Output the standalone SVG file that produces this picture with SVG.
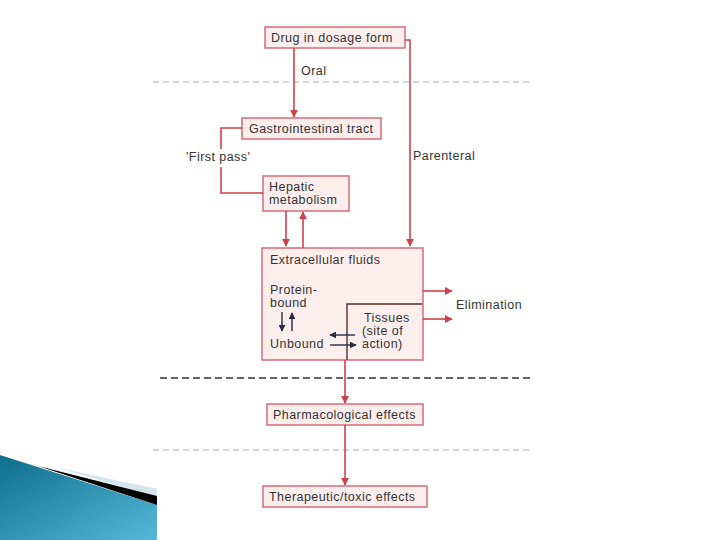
<svg xmlns="http://www.w3.org/2000/svg" width="720" height="540" viewBox="0 0 720 540">
<defs>
<style>
.box{fill:#fdeeee;stroke:#d87480;stroke-width:1.6}
.t{font-family:"Liberation Sans",Arial,sans-serif;font-size:12.5px;letter-spacing:0.45px;fill:#333}
.c{fill:none;stroke:#d0404c;stroke-width:1.6}
.k{fill:none;stroke:#222a44;stroke-width:1.4}
.dl{stroke:#aaa;stroke-width:1;stroke-dasharray:6,4}
.dd{stroke:#333;stroke-width:1.6;stroke-dasharray:7,4}
</style>
<marker id="ar" viewBox="0 0 10 10" refX="9" refY="5" markerWidth="5" markerHeight="5" orient="auto"><path d="M0,0 L10,5 L0,10 z" fill="#d0404c"/></marker>
<marker id="ak" viewBox="0 0 10 10" refX="9" refY="5" markerWidth="5" markerHeight="5" orient="auto"><path d="M0,0 L10,5 L0,10 z" fill="#222a44"/></marker>
<linearGradient id="tg" x1="0" y1="0" x2="1" y2="1"><stop offset="0" stop-color="#0d6f8c"/><stop offset="1" stop-color="#55b8d8"/></linearGradient>
</defs>
<rect width="720" height="540" fill="#fff"/>
<g id="decor">
<path d="M0,455 L157,505 L157,540 L0,540 Z" fill="url(#tg)"/>
<path d="M55,467 L157,489 L157,497 Z" fill="#d6e4ec"/>
<path d="M38,466 L157,496 L157,505 Z" fill="#000"/>
</g>
<g id="lines">
<line class="dl" x1="153" y1="82" x2="530" y2="82"/>
<line class="dd" x1="160" y1="378" x2="530" y2="378"/>
<line class="dl" x1="153" y1="450" x2="530" y2="450"/>
</g>
<g id="drug"><rect class="box" x="265" y="27" width="140" height="21"/><text class="t" x="271" y="42">Drug in dosage form</text></g>
<g id="gi"><rect class="box" x="242" y="118" width="139" height="21"/><text class="t" x="249" y="133">Gastrointestinal tract</text></g>
<g id="hepatic"><rect class="box" x="263" y="176" width="86" height="35"/><text class="t" x="269" y="191">Hepatic</text><text class="t" x="269" y="204">metabolism</text></g>
<g id="ecf"><rect class="box" x="262" y="248" width="161" height="112"/>
<text class="t" x="270" y="264">Extracellular fluids</text>
<text class="t" x="270" y="294">Protein-</text>
<text class="t" x="270" y="307">bound</text>
<text class="t" x="270" y="348">Unbound</text>
<text class="t" x="364" y="322">Tissues</text>
<text class="t" x="362" y="335">(site of</text>
<text class="t" x="362" y="348">action)</text>
</g>
<g id="pharm"><rect class="box" x="267" y="404" width="156" height="21"/><text class="t" x="273" y="419">Pharmacological effects</text></g>
<g id="ther"><rect class="box" x="263" y="486" width="164" height="21"/><text class="t" x="269" y="501">Therapeutic/toxic effects</text></g>
<g id="labels">
<text class="t" x="301" y="75">Oral</text>
<text class="t" x="186" y="161">'First pass'</text>
<text class="t" x="413" y="160">Parenteral</text>
<text class="t" x="456" y="309">Elimination</text>
</g>
<g id="connectors">
<path class="c" d="M294,48 V117" marker-end="url(#ar)"/>
<path class="c" d="M405,40 H410 V246" marker-end="url(#ar)"/>
<path class="c" d="M242,128 H221 V149 M221,167 V193 H263"/>
<path class="c" d="M286,211 V246" marker-end="url(#ar)"/>
<path class="c" d="M303,248 V212" marker-end="url(#ar)"/>
<path class="c" d="M423,291 H452" marker-end="url(#ar)"/>
<path class="c" d="M423,319 H452" marker-end="url(#ar)"/>
<path d="M422,304 H347 V360" fill="none" stroke="#5a2a2a" stroke-width="1.4"/>
<path class="c" d="M345,360 V403" marker-end="url(#ar)"/>
<path class="c" d="M345,425 V485" marker-end="url(#ar)"/>
<path class="k" d="M282,312 V331" marker-end="url(#ak)" stroke-width="1"/>
<path class="k" d="M292,331 V313" marker-end="url(#ak)" stroke-width="0.8"/>
<path class="k" d="M355,335 H330" marker-end="url(#ak)"/>
<path class="k" d="M330,345 H356" marker-end="url(#ak)"/>
</g>
</svg>
